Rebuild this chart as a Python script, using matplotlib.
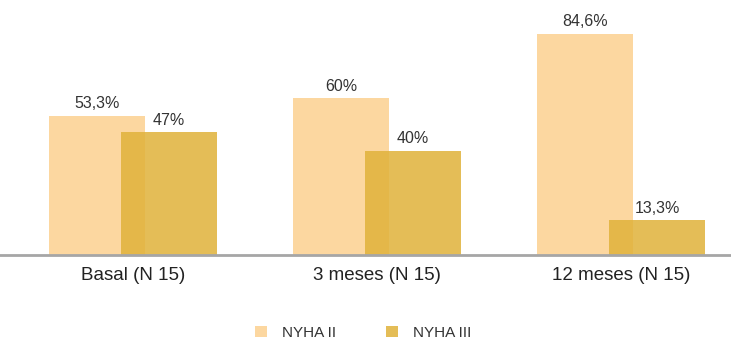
import matplotlib.pyplot as plt
import numpy as np

plt.rcParams['font.family'] = ['Liberation Sans', 'DejaVu Sans']

categories = ['Basal (N 15)', '3 meses (N 15)', '12 meses (N 15)']
nyha_ii = [53.3, 60, 84.6]
nyha_iii = [47, 40, 13.3]
labels_ii = ['53,3%', '60%', '84,6%']
labels_iii = ['47%', '40%', '13,3%']

fig = plt.figure(figsize=(7.31, 3.41), dpi=100)
ax = fig.add_axes([0, 1 - 255 / 341, 1, 245 / 341])

x = np.arange(len(categories))
w = 0.393
off = 0.1475

b2 = ax.bar(x - off, nyha_ii, w, color='#FCD7A0', label='NYHA II', zorder=2)
b3 = ax.bar(x + off, nyha_iii, w, color='#E0B23A', alpha=0.85, label='NYHA III', zorder=3)

for rect, txt in zip(b2, labels_ii):
    ax.text(rect.get_x() + rect.get_width() / 2, rect.get_height() + 1.8, txt,
            ha='center', va='bottom', fontsize=11.5, color='#333333')
for rect, txt in zip(b3, labels_iii):
    ax.text(rect.get_x() + rect.get_width() / 2, rect.get_height() + 1.8, txt,
            ha='center', va='bottom', fontsize=11.5, color='#333333')

ax.set_xlim(-133 / 244, 2 + 110 / 244)
ax.set_ylim(0, 245 / 2.61)
ax.set_xticks(x)
ax.set_xticklabels(categories, fontsize=13.5, color='#222222')
ax.tick_params(axis='x', length=0, pad=8.5)
ax.set_yticks([])
for s in ['top', 'right', 'left']:
    ax.spines[s].set_visible(False)
ax.spines['bottom'].set_color('#A6A6A6')
ax.spines['bottom'].set_linewidth(2)
ax.spines['bottom'].set_zorder(4)

fig.legend(handles=[b2, b3], loc='center', bbox_to_anchor=(0.497, 1 - 333 / 341),
           ncol=2, frameon=False, fontsize=11, handlelength=0.75, handleheight=0.75,
           columnspacing=3.3, handletextpad=1.0, labelcolor='#333333')

fig.savefig('out.png', dpi=100)
